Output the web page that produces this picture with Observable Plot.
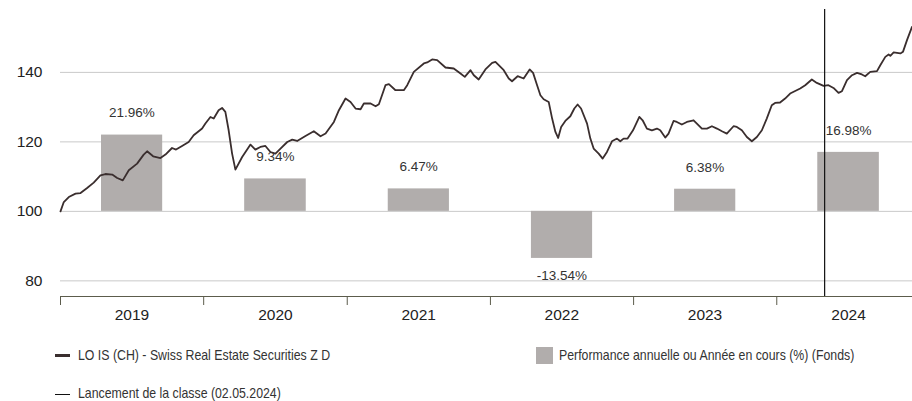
<!DOCTYPE html>
<html><head><meta charset="utf-8">
<script src="https://cdn.jsdelivr.net/npm/d3@7"></script>
<script src="https://cdn.jsdelivr.net/npm/@observablehq/plot@0.6"></script>
<style>
body{margin:0;background:#fff;}
#wrap{position:relative;width:912px;height:401px;overflow:hidden;}
.lg{position:absolute;font-family:"Liberation Sans",Arial,sans-serif;font-size:14.5px;color:#333;white-space:nowrap;line-height:16px;transform:scaleX(0.85);transform-origin:0 50%;}
.sw{position:absolute;}
</style></head><body><div id="wrap"></div>
<script>
// ---- data ----
const lineYears = [
2019.000,2019.023,2019.058,2019.105,2019.140,2019.186,2019.232,2019.279,2019.314,2019.361,
2019.396,2019.435,2019.477,2019.535,2019.581,2019.605,2019.647,2019.698,2019.733,2019.779,
2019.807,2019.849,2019.895,2019.930,2019.965,2019.989,2020.012,2020.047,2020.070,2020.104,
2020.128,2020.151,2020.174,2020.198,2020.221,2020.268,2020.326,2020.360,2020.395,2020.430,
2020.465,2020.500,2020.535,2020.582,2020.617,2020.651,2020.709,2020.767,2020.814,2020.849,
2020.907,2020.942,2020.988,2021.023,2021.058,2021.093,2021.116,2021.163,2021.198,2021.221,
2021.267,2021.291,2021.337,2021.395,2021.419,2021.465,2021.535,2021.558,2021.593,2021.628,
2021.686,2021.744,2021.791,2021.821,2021.861,2021.884,2021.918,2021.965,2022.012,2022.035,
2022.058,2022.093,2022.128,2022.151,2022.190,2022.232,2022.274,2022.298,2022.326,2022.349,
2022.372,2022.407,2022.431,2022.454,2022.473,2022.494,2022.523,2022.558,2022.586,2022.609,
2022.633,2022.675,2022.698,2022.721,2022.756,2022.784,2022.814,2022.849,2022.884,2022.907,
2022.930,2022.958,2022.996,2023.040,
2023.063,2023.093,2023.128,2023.163,2023.186,2023.221,2023.244,2023.279,2023.302,2023.337,
2023.372,2023.419,2023.442,2023.477,2023.512,2023.547,2023.582,2023.617,2023.651,2023.698,
2023.721,2023.756,2023.791,2023.826,2023.861,2023.896,2023.930,2023.965,2023.988,2024.023,
2024.058,2024.093,2024.163,2024.198,2024.244,2024.279,2024.326,2024.360,2024.395,2024.430,
2024.454,2024.489,2024.524,2024.559,2024.593,2024.616,2024.651,2024.698,2024.721,2024.756,
2024.779,2024.791,2024.814,2024.861,2024.879,2024.907,2024.942
];
const lineValues = [
100.00,102.68,104.12,105.10,105.27,106.71,108.27,110.37,110.75,110.58,
109.60,108.93,111.82,113.75,116.34,117.29,115.85,115.36,116.34,118.24,
117.78,118.82,119.97,121.90,123.05,123.83,125.27,127.18,126.71,129.11,
129.77,128.62,123.34,116.63,112.02,115.65,119.22,117.78,118.53,118.82,
117.09,116.63,118.07,119.97,120.66,120.26,121.70,123.05,121.61,122.39,
125.73,129.11,132.48,131.50,129.60,129.39,131.04,131.04,130.26,130.84,
136.31,136.60,134.87,134.87,136.31,140.14,142.57,142.85,143.72,143.52,
141.41,141.12,139.68,138.70,140.63,139.19,137.95,140.84,142.74,143.03,
142.07,140.63,138.24,137.46,138.90,138.24,140.84,139.86,136.31,133.43,
132.28,131.50,126.71,122.85,121.12,124.29,126.02,127.38,129.60,130.75,
129.60,125.27,120.95,118.07,116.63,115.19,117.09,120.17,120.95,120.17,
120.95,120.95,123.34,127.18,
126.22,123.83,123.34,123.83,123.34,121.24,122.39,126.02,125.73,124.99,
125.73,126.22,125.27,123.83,123.83,124.50,123.83,123.05,122.39,124.50,
124.29,123.34,121.41,120.17,121.41,123.34,126.71,130.55,131.21,131.33,
132.48,133.92,135.36,136.31,137.95,136.97,136.11,136.31,135.53,134.09,
134.58,137.75,139.19,139.86,139.40,138.90,140.14,140.35,142.07,144.47,
145.16,144.76,145.73,145.45,145.91,149.28,153.11
];
const barYears = [2019, 2020, 2021, 2022, 2023, 2024];
const barPerf = [21.96, 9.34, 6.47, -13.54, 6.38, 16.98];
const yTicks = [80, 100, 120, 140];
const baseValue = 100;
const launchDate = "2024-05-02";
const xStart = "2019-01-01";
const xEnd = "2024-12-12";
const yDomain = [75.5, 158.1];
const seriesName = "LO IS (CH) - Swiss Real Estate Securities Z D";
const barName = "Performance annuelle ou Année en cours (%) (Fonds)";
const launchName = "Lancement de la classe (02.05.2024)";

// ---- build ----
function decToDate(d){
  const y = Math.floor(d + 1e-9);
  const s = Date.UTC(y,0,1), e = Date.UTC(y+1,0,1);
  return new Date(s + (d - y) * (e - s));
}
const lineData = d3.zip(lineYears, lineValues).map(([t, v]) => ({date: decToDate(t), value: v}));
const bars = barYears.map((y, i) => ({
  start: new Date(Date.UTC(y,0,1)),
  end: new Date(Date.UTC(y+1,0,1)),
  mid: new Date(Date.UTC(y,6,2)),
  base: baseValue,
  top: baseValue + barPerf[i],
  perf: barPerf[i],
  label: barPerf[i].toFixed(2) + "%"
}));
const yearStarts = barYears.map(y => new Date(Date.UTC(y,0,1)));
const yearMids = barYears.map(y => new Date(Date.UTC(y,6,2)));

const font = '"Liberation Sans", Arial, sans-serif';
const chart = Plot.plot({
  width: 912, height: 335,
  marginTop: 9, marginBottom: 39, marginLeft: 60, marginRight: 0,
  style: {fontFamily: font, background: "#fff", overflow: "visible"},
  x: {type: "utc", domain: [new Date(xStart), new Date(xEnd)]},
  y: {domain: yDomain},
  marks: [
    Plot.gridY(yTicks, {stroke: "#c9c9c9", strokeOpacity: 1, strokeWidth: 1}),
    Plot.axisY(yTicks, {tickSize: 0, tickPadding: 18, fontSize: 15.5, fill: "#222", label: null, tickFormat: d => String(d)}),
    Plot.rect(bars, {x1: "start", x2: "end", y1: "base", y2: "top", fill: "#b1adac", insetLeft: 41, insetRight: 41}),
    Plot.text(bars.filter(d => d.perf >= 0), {x: "mid", y: "top", text: "label", dy: -22, fontSize: 13.5, fill: "#333"}),
    Plot.text(bars.filter(d => d.perf < 0), {x: "mid", y: "top", text: "label", dy: 17, fontSize: 13.5, fill: "#333"}),
    Plot.ruleY([yDomain[0]], {stroke: "#5c5c4c", strokeWidth: 1}),
    Plot.axisX(yearStarts, {tickSize: 9, tickFormat: () => "", stroke: "#5c5c4c", label: null}),
    Plot.axisX(yearMids, {tickSize: 0, tickPadding: 12, tickFormat: "%Y", fontSize: 15.5, fill: "#222", label: null}),
    Plot.line(lineData, {x: "date", y: "value", stroke: "#3a2e2e", strokeWidth: 1.8}),
    Plot.ruleX([new Date(launchDate)], {stroke: "#111", strokeWidth: 1.2})
  ]
});
const wrap = document.getElementById("wrap");
chart.style.position = "absolute"; chart.style.left = "0"; chart.style.top = "0";
wrap.appendChild(chart);

function sw(x, y, w, h, c){
  const d = document.createElement("div"); d.className = "sw";
  Object.assign(d.style, {left: x+"px", top: y+"px", width: w+"px", height: h+"px", background: c});
  wrap.appendChild(d);
}
function lg(x, yc, t){
  const d = document.createElement("div"); d.className = "lg"; d.textContent = t;
  d.style.left = x + "px"; d.style.top = (yc - 8) + "px";
  wrap.appendChild(d);
}
sw(55, 353.5, 15, 3, "#3a2e2e"); lg(78, 355, seriesName);
sw(536, 347, 17, 17, "#b1adac"); lg(559, 355, barName);
sw(55, 393.5, 15, 1.2, "#111"); lg(78, 393, launchName);
</script></body></html>
